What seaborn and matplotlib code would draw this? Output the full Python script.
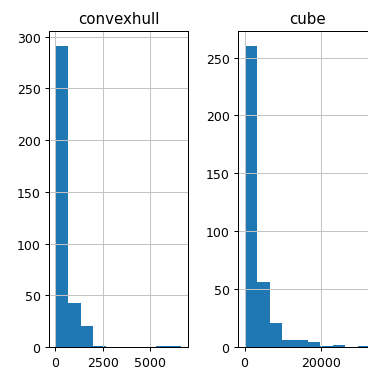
import matplotlib

matplotlib.use("Agg")

import matplotlib.pyplot as plt
import numpy as np
import seaborn as sns

# counts per bin (10 equal bins, as DataFrame.hist draws them)
hull_counts = [291, 43, 20, 1, 0, 0, 0, 0, 1, 1]
hull_range = (10, 6660)

cube_counts = [260, 56, 21, 6, 6, 4, 1, 2, 0, 1]
cube_range = (0, 33000)

panels = [
    ("convexhull", hull_counts, hull_range),
    ("cube", cube_counts, cube_range),
]

_DPI = 90
W, H = 368, 371
fig = plt.figure(figsize=(W / _DPI, H / _DPI), dpi=_DPI)

rects = [
    [49.3 / W, 23 / H, 138.4 / W, 316 / H],
    [238.3 / W, 23 / H, 138.4 / W, 316 / H],
]

for rect, (name, counts, (lo, hi)) in zip(rects, panels):
    ax = fig.add_axes(rect)
    n_bins = len(counts)
    edges = np.linspace(lo, hi, n_bins + 1)
    centers = (edges[:-1] + edges[1:]) / 2
    sns.histplot(
        x=centers,
        weights=counts,
        bins=n_bins,
        binrange=(lo, hi),
        color="#1f77b4",
        alpha=1,
        linewidth=0,
        ax=ax,
    )
    ax.grid(True, color="#c4c4c4")
    ax.set_title(name)
    ax.set_xlabel("")
    ax.set_ylabel("")

fig.savefig("out.png", dpi=_DPI)
plt.close(fig)
